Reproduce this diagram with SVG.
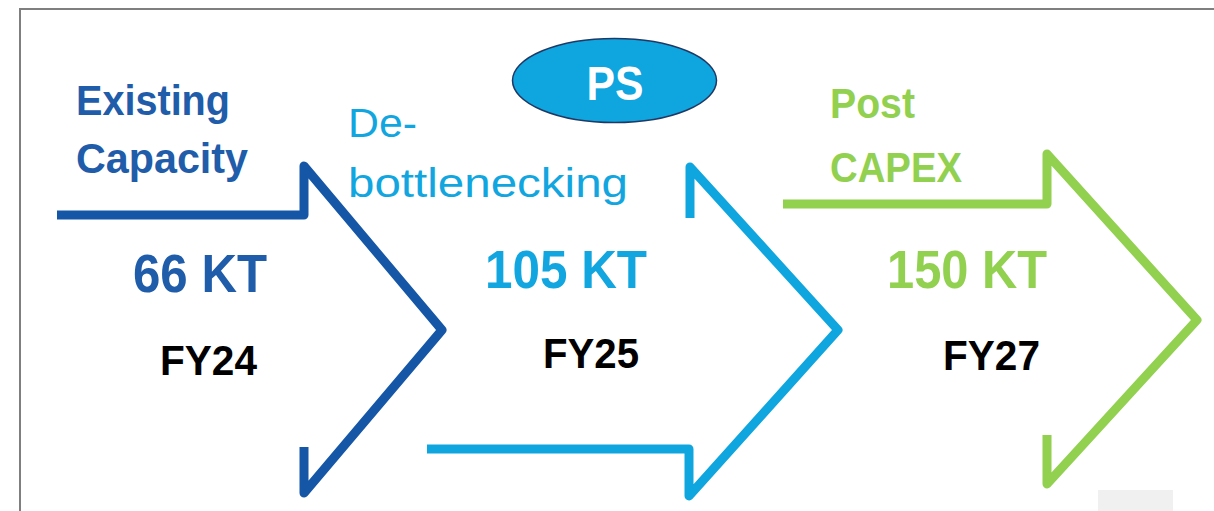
<svg xmlns="http://www.w3.org/2000/svg" width="1214" height="511" viewBox="0 0 1214 511">
  <style>
    .frame { fill: none; stroke: #7f7f7f; stroke-width: 2; }
    .chev { fill: none; stroke-width: 9; stroke-linejoin: round; stroke-linecap: butt; }
    .dark { stroke: #1557a6; }
    .light { stroke: #0fa5df; }
    .green { stroke: #92d050; }
    .t { font-family: "Liberation Sans", Arial, sans-serif; }
    .title { font-size: 42px; font-weight: bold; }
    .sub { font-size: 40px; }
    .cap { font-size: 54px; font-weight: bold; }
    .year { font-size: 42px; font-weight: bold; fill: #000; }
    .tdark { fill: #1f5ca9; }
    .tlight { fill: #12a6e0; }
    .tgreen { fill: #92d050; }
  </style>

  <rect width="1214" height="511" fill="#ffffff"/>
  <!-- page frame (top and left edges) -->
  <path class="frame" d="M20,511 V9 H1214"/>
  <rect x="1098" y="490" width="75" height="21" fill="#f0f0f0"/>

  <!-- stage 1: existing capacity -->
  <g id="stage-existing">
    <path class="chev dark" d="M57,215 H304 V166 L442,330 L304,493 V447"/>
    <text class="t title tdark" x="76" y="115" textLength="154" lengthAdjust="spacingAndGlyphs">Existing</text>
    <text class="t title tdark" x="76" y="173" textLength="172" lengthAdjust="spacingAndGlyphs">Capacity</text>
    <text class="t cap tdark" x="133" y="292" textLength="134" lengthAdjust="spacingAndGlyphs">66 KT</text>
    <text class="t year" x="160" y="375" textLength="97" lengthAdjust="spacingAndGlyphs">FY24</text>
  </g>

  <!-- stage 2: de-bottlenecking -->
  <g id="stage-debottleneck">
    <path class="chev light" d="M690,218 V167 L838,330 L689,496 V449 H427"/>
    <text class="t sub tlight" x="348" y="137" textLength="69" lengthAdjust="spacingAndGlyphs">De-</text>
    <text class="t sub tlight" x="348" y="197" textLength="280" lengthAdjust="spacingAndGlyphs">bottlenecking</text>
    <text class="t cap tlight" x="485" y="288" textLength="162" lengthAdjust="spacingAndGlyphs">105 KT</text>
    <text class="t year" x="543" y="368" textLength="96" lengthAdjust="spacingAndGlyphs">FY25</text>
  </g>

  <!-- PS badge -->
  <g id="badge-ps">
    <ellipse cx="614.5" cy="80.5" rx="102" ry="42" fill="#0fa5df" stroke="#1f3864" stroke-width="1.5"/>
    <text class="t" x="615" y="100" text-anchor="middle" font-size="48" font-weight="bold" fill="#ffffff" textLength="57" lengthAdjust="spacingAndGlyphs">PS</text>
  </g>

  <!-- stage 3: post capex -->
  <g id="stage-postcapex">
    <path class="chev green" d="M783,204 H1047 V154 L1197,320 L1047,484 V435"/>
    <text class="t title tgreen" x="830" y="118" textLength="85" lengthAdjust="spacingAndGlyphs">Post</text>
    <text class="t title tgreen" x="830" y="182" textLength="132" lengthAdjust="spacingAndGlyphs">CAPEX</text>
    <text class="t cap tgreen" x="887" y="288" textLength="160" lengthAdjust="spacingAndGlyphs">150 KT</text>
    <text class="t year" x="943" y="370" textLength="97" lengthAdjust="spacingAndGlyphs">FY27</text>
  </g>
</svg>
